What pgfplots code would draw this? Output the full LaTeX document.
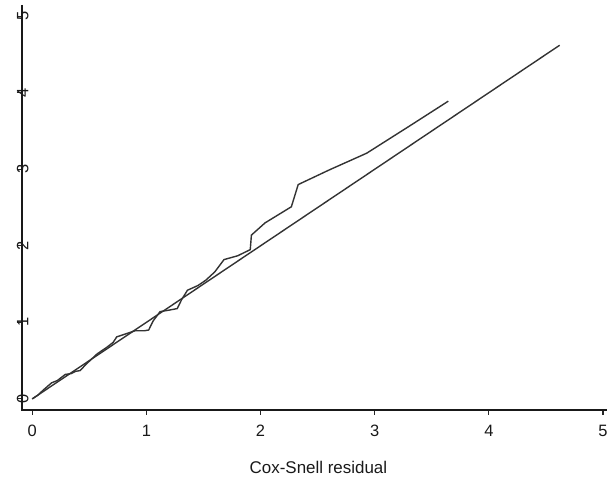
\documentclass[border=0pt]{standalone}
\usepackage{pgfplots}
\pgfplotsset{compat=1.18}
\usepackage{fontspec}
\setmainfont{Liberation Sans}
\usetikzlibrary{calc}
\begin{document}
\begin{tikzpicture}
\begin{axis}[
  scale only axis,
  width=585bp, height=404.5bp,
  xmin=-0.092, xmax=5.035,
  ymin=-0.141, ymax=5.146,
  axis lines=left,
  axis line style={-, line width=1.6bp, black!90},
  xtick={0,1,2,3,4,5}, ytick={0,1,2,3,4,5},
  tick align=outside,
  major tick length=5bp,
  tick style={line width=1.1bp, black!85},
  /pgf/number format/assume math mode=true,
  tick label style={font=\fontsize{16.5}{16.5}\selectfont, text=black!90},
  xticklabel style={anchor=north, yshift=-7bp},
  yticklabel style={anchor=center, xshift=6bp, rotate=90},
  xlabel={Cox-Snell residual},
  xlabel style={font=\fontsize{17}{17}\selectfont, text=black!90, at={(axis description cs:0.507,0)}, anchor=center, yshift=-58bp},
  clip=false,
]
\addplot[line width=1.6bp, black!90, forget plot] coordinates {(-0.092,5.146) (-0.092,-0.141) (5.035,-0.141)};
\addplot[line width=1.4bp, black!80] coordinates {(0,0) (4.62,4.62)};
\addplot[line width=1.4bp, black!80] coordinates {
(0.00,0.00) (0.05,0.05) (0.10,0.12) (0.17,0.21) (0.22,0.24) (0.29,0.32)
(0.34,0.33) (0.38,0.36) (0.42,0.37) (0.47,0.45) (0.57,0.59) (0.65,0.67)
(0.71,0.74) (0.74,0.81) (0.80,0.84) (0.90,0.89) (0.98,0.89) (1.02,0.90)
(1.06,1.02) (1.12,1.14) (1.20,1.16) (1.27,1.18) (1.31,1.30) (1.36,1.42)
(1.45,1.48) (1.52,1.55) (1.60,1.66) (1.68,1.82) (1.80,1.87) (1.91,1.95)
(1.92,2.14) (2.04,2.30) (2.27,2.51) (2.33,2.80) (2.60,2.99) (2.93,3.21)
(3.30,3.56) (3.645,3.89)};
\coordinate (bl) at (rel axis cs:0,0);
\coordinate (tr) at (rel axis cs:1,1);
\end{axis}
\pgfresetboundingbox
\useasboundingbox ($(bl)+(-21.7bp,-69.5bp)$) rectangle ($(tr)+(0bp,5bp)$);
\end{tikzpicture}
\end{document}
